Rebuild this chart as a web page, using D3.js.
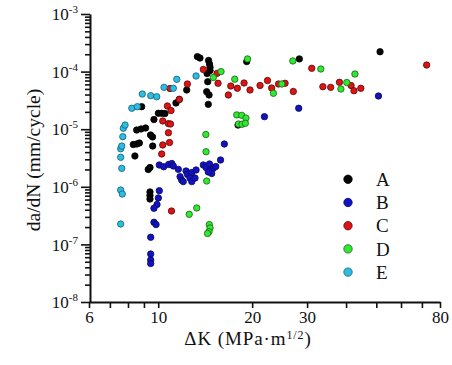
<!DOCTYPE html>
<html>
<head>
<meta charset="utf-8">
<script src="https://cdn.jsdelivr.net/npm/d3@7"></script>
<style>
  body { margin: 0; background: #fff; }
  svg text, svg tspan { font-family: "Liberation Serif", "Times New Roman", serif; fill: #111; }
</style>
</head>
<body>
<svg id="chart" width="452" height="365"></svg>
<script>
// ΔK (MPa·m^1/2) and da/dN (mm/cycle)
const dkA = [13.35, 13.61, 14.50, 14.60, 14.66, 14.66, 14.34, 14.41, 12.34, 14.30, 14.55, 14.47, 11.68, 11.40, 8.85, 10.01, 10.26, 10.51, 9.69, 8.53, 8.81, 9.11, 9.45, 9.59, 8.32, 8.53, 8.70, 9.60, 8.42, 9.29, 9.41, 9.41, 9.41, 9.41, 19.21, 28.33, 51.4, 18.02];
const rateA = [1.82e-4, 1.72e-4, 1.56e-4, 1.36e-4, 1.19e-4, 1.04e-4, 9.27e-5, 6.68e-5, 4.80e-5, 4.48e-5, 3.93e-5, 2.70e-5, 3.28e-5, 2.85e-5, 2.46e-5, 1.89e-5, 1.89e-5, 1.87e-5, 1.47e-5, 9.68e-6, 1.01e-5, 1.05e-5, 7.93e-6, 7.33e-6, 5.42e-6, 5.53e-6, 5.75e-6, 5.1e-6, 3.43e-6, 2.0e-6, 2.16e-6, 8.13e-7, 7.06e-7, 6.14e-7, 1.49e-4, 1.66e-4, 2.21e-4, 1.18e-5];

const dkB = [10.08, 10.41, 10.80, 11.05, 11.18, 11.60, 12.28, 12.41, 12.81, 11.75, 11.89, 12.03, 12.65, 12.81, 13.22, 13.12, 13.95, 14.23, 14.60, 14.66, 15.02, 15.29, 14.84, 14.47, 15.84, 16.29, 21.9, 28.2, 50.8, 10.08, 10.01, 9.91, 9.69, 9.69, 9.84, 9.46, 9.46, 9.46, 9.46];
const rateB = [2.39e-6, 2.23e-6, 2.44e-6, 2.54e-6, 2.30e-6, 2.01e-6, 1.88e-6, 1.64e-6, 1.77e-6, 1.50e-6, 1.31e-6, 1.23e-6, 1.41e-6, 1.23e-6, 1.96e-6, 1.42e-6, 2.39e-6, 2.16e-6, 2.49e-6, 1.92e-6, 2.09e-6, 2.25e-6, 1.70e-6, 1.81e-6, 2.92e-6, 5.53e-6, 1.65e-5, 2.31e-5, 3.77e-5, 8.55e-7, 6.4e-7, 4.93e-7, 4.24e-7, 2.42e-7, 2.21e-7, 1.33e-7, 6.81e-8, 5.36e-8, 4.66e-8];

const dkC = [72.5, 31.05, 13.95, 15.44, 12.40, 10.91, 11.68, 10.70, 10.99, 10.34, 10.78, 10.95, 10.78, 10.87, 10.34, 10.26, 11.03, 15.55, 17.08, 16.78, 17.93, 18.84, 19.69, 21.2, 22.4, 23.1, 24.3, 25.5, 27.1, 33.7, 35.7, 38.1, 41.5, 42.4, 44.6];
const rateC = [1.30e-4, 1.14e-4, 1.09e-4, 9.33e-5, 6.09e-5, 5.09e-5, 3.30e-5, 2.53e-5, 2.11e-5, 1.39e-5, 1.25e-5, 1.23e-5, 8.69e-6, 5.87e-6, 5.32e-6, 3.71e-6, 3.8e-7, 6.27e-5, 5.62e-5, 3.93e-5, 5.13e-5, 6.34e-5, 4.80e-5, 5.74e-5, 7.0e-5, 5.19e-5, 6.09e-5, 6.27e-5, 4.52e-5, 5.47e-5, 5.33e-5, 6.52e-5, 5.74e-5, 4.66e-5, 5.13e-5];

const dkD = [19.33, 15.9, 15.02, 17.59, 27.0, 33.2, 42.7, 40.2, 38.5, 24.9, 23.4, 17.85, 18.52, 19.11, 18.09, 18.56, 19.02, 14.21, 14.23, 14.30, 13.29, 12.57, 14.58, 14.66, 14.55, 14.39];
const rateD = [1.66e-4, 1.0e-4, 7.9e-5, 7.38e-5, 1.53e-4, 1.11e-4, 9.08e-5, 6.47e-5, 4.99e-5, 6.09e-5, 4.2e-5, 1.77e-5, 1.74e-5, 1.56e-5, 1.23e-5, 1.22e-5, 1.27e-5, 8.09e-6, 4.06e-6, 1.26e-6, 4.29e-7, 3.33e-7, 2.21e-7, 1.93e-7, 1.66e-7, 1.55e-7];

const dkE = [7.58, 7.58, 7.67, 7.64, 7.58, 7.58, 7.64, 7.70, 7.73, 7.83, 8.23, 8.57, 8.89, 9.46, 9.89, 10.44, 11.18, 11.47, 13.22];
const rateE = [2.26e-7, 8.79e-7, 7.5e-7, 2.09e-6, 3.25e-6, 4.58e-6, 5.1e-6, 7.41e-6, 1.04e-5, 1.18e-5, 2.31e-5, 2.46e-5, 4.08e-5, 3.82e-5, 3.66e-5, 5.33e-5, 5.13e-5, 7.35e-5, 8.39e-5];

const seriesNames = ['A', 'B', 'C', 'D', 'E'];
const xTickValues = [6, 7, 8, 9, 10, 20, 30, 40, 50, 60, 70, 80];
const xTickLabels = [6, 10, 20, 30, 80];
const yExponents = [-8, -7, -6, -5, -4, -3];

const FONT = '"Liberation Serif", "Times New Roman", serif';

const colors = {
  A: { fill: '#050505', stroke: '#000' },
  B: { fill: '#1212c4', stroke: '#0a0a55' },
  C: { fill: '#dc1414', stroke: '#5a0a0a' },
  D: { fill: '#30ea30', stroke: '#1b5e1b' },
  E: { fill: '#2ebde2', stroke: '#1a5c70' }
};

const series = [
  { name: 'A', points: d3.zip(dkA, rateA) },
  { name: 'B', points: d3.zip(dkB, rateB) },
  { name: 'C', points: d3.zip(dkC, rateC) },
  { name: 'D', points: d3.zip(dkD, rateD) },
  { name: 'E', points: d3.zip(dkE, rateE) }
];

const svg = d3.select('#chart');

const x = d3.scaleLog().domain([6, 80]).range([89, 440]);
const y = d3.scaleLog().domain([1e-8, 1e-3]).range([302, 14]);

// minor y ticks: 2..9 per decade
const yMinor = [];
yExponents.slice(0, -1).forEach(e => {
  for (let m = 2; m <= 9; m++) yMinor.push(m * Math.pow(10, e));
});

const yMinorAxis = svg.append('g')
  .attr('transform', 'translate(90,0)')
  .call(d3.axisLeft(y).tickValues(yMinor).tickSize(5).tickSizeOuter(0).tickFormat(''));
yMinorAxis.select('.domain').remove();

const yAxis = svg.append('g')
  .attr('transform', 'translate(90,0)')
  .call(d3.axisLeft(y)
    .tickValues(yExponents.map(e => Math.pow(10, e)))
    .tickSize(9).tickSizeOuter(0)
    .tickFormat(''));
yAxis.selectAll('.tick text').remove();

yAxis.selectAll('.tick').each(function(d) {
  const t = d3.select(this).append('text')
    .attr('x', -12).attr('dy', '0.33em')
    .attr('text-anchor', 'end')
    .attr('font-family', FONT)
    .attr('font-size', 17);
  t.append('tspan').text('10');
  t.append('tspan').attr('dy', -7).attr('font-size', 11)
    .text('-' + Math.round(-Math.log10(d)));
});

const xAxis = svg.append('g')
  .attr('transform', 'translate(0,302)')
  .call(d3.axisBottom(x).tickValues(xTickValues).tickSize(6).tickSizeOuter(0).tickPadding(3)
    .tickFormat(d => xTickLabels.includes(d) ? d : ''));

svg.selectAll('g').attr('font-family', FONT).attr('font-size', null);
xAxis.selectAll('text').attr('font-size', 17).attr('font-family', FONT);

svg.selectAll('.domain').attr('stroke', '#111').attr('stroke-width', 2);
svg.selectAll('.tick line').attr('stroke', '#111').attr('stroke-width', 1.6);
svg.selectAll('.tick text').attr('fill', '#111');

// axis titles
const xt = svg.append('text')
  .attr('x', 248).attr('y', 345)
  .attr('text-anchor', 'middle')
  .attr('font-family', FONT)
  .attr('font-size', 19)
  .attr('letter-spacing', 0.9);
xt.append('tspan').text('\u0394K (MPa\u00b7m');
xt.append('tspan').attr('dy', -6).attr('font-size', 12).text('1/2');
xt.append('tspan').attr('dy', 6).text(')');

svg.append('text')
  .attr('transform', 'translate(40,160) rotate(-90)')
  .attr('text-anchor', 'middle')
  .attr('font-family', FONT)
  .attr('font-size', 19.5)
  .text('da/dN (mm/cycle)');

// data points
svg.append('g').selectAll('g')
  .data(series)
  .join('g')
  .each(function(s) {
    d3.select(this).selectAll('circle')
      .data(s.points)
      .join('circle')
      .attr('cx', d => x(d[0]))
      .attr('cy', d => y(d[1]))
      .attr('r', 3.2)
      .attr('fill', colors[s.name].fill)
      .attr('stroke', colors[s.name].stroke)
      .attr('stroke-width', 0.8);
  });

// legend
const legend = svg.append('g').selectAll('g')
  .data(seriesNames)
  .join('g')
  .attr('transform', (d, i) => `translate(348,${179.3 + i * 23.2})`);
legend.append('circle')
  .attr('r', 4.2)
  .attr('fill', d => colors[d].fill)
  .attr('stroke', d => colors[d].stroke)
  .attr('stroke-width', 0.8);
legend.append('text')
  .attr('x', 28).attr('y', 6.7)
  .attr('font-family', FONT)
  .attr('font-size', 19)
  .text(d => d);
</script>
</body>
</html>
